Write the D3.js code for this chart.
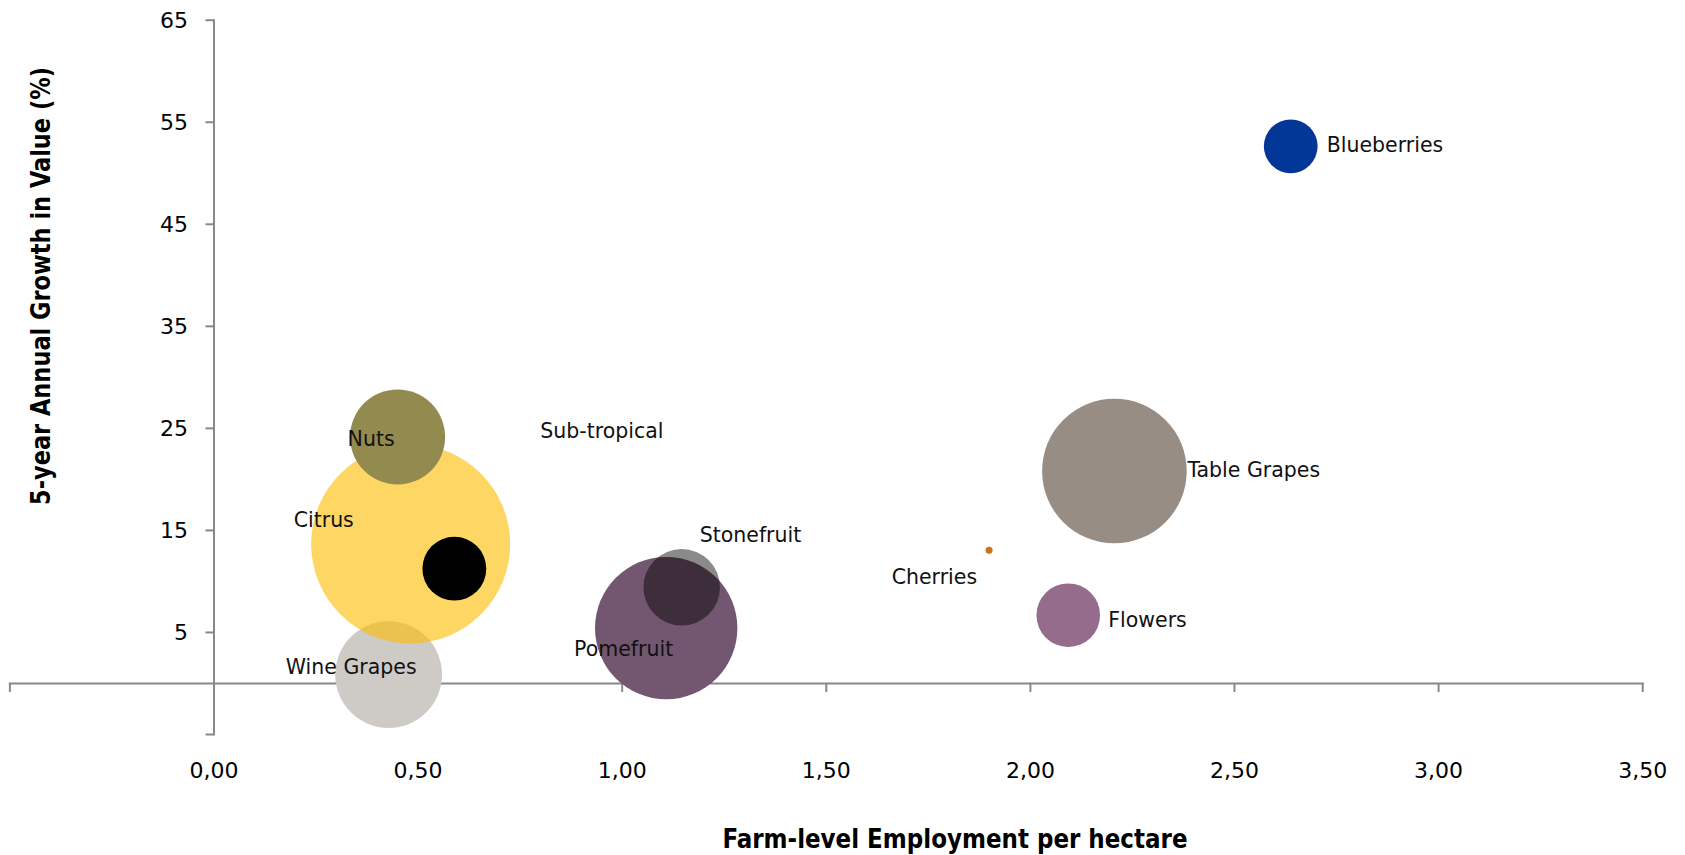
<!DOCTYPE html>
<html>
<head>
<meta charset="utf-8">
<script src="https://cdn.jsdelivr.net/npm/d3@7"></script>
<style>
  html, body { margin: 0; padding: 0; background: #fff; }
  svg { display: block; }
</style>
</head>
<body>
<svg id="chart" width="1685" height="855"></svg>
<script>
// ---- data (in drawing order) ----
const crops = ["Wine Grapes", "Citrus", "Nuts", "Sub-tropical", "Pomefruit", "Stonefruit", "Cherries", "Table Grapes", "Flowers", "Blueberries"];
const employment = [0.429, 0.483, 0.451, 0.590, 1.109, 1.147, 1.900, 2.207, 2.094, 2.639];
const growth = [0.82, 13.62, 24.11, 11.20, 5.38, 9.38, 13.01, 20.77, 6.64, 52.59];
const bubbleSize = [28.8, 100, 22.8, 10.3, 51.2, 14.8, 0.12, 52.8, 10.2, 7.3];
const xTicks = [-0.5, 0, 0.5, 1, 1.5, 2, 2.5, 3, 3.5];
const yTicks = [-5, 5, 15, 25, 35, 45, 55, 65];
const xTitle = "Farm-level Employment per hectare";
const yTitle = "5-year Annual Growth in Value (%)";

// ---- styles ----
const fills = {
  "Wine Grapes": ["#CECAC6", 1],
  "Citrus": ["rgb(253,189,3)", 0.62],
  "Nuts": ["#938A50", 1],
  "Sub-tropical": ["#000000", 1],
  "Pomefruit": ["#735670", 1],
  "Stonefruit": ["#000000", 0.46],
  "Cherries": ["#C8731E", 1],
  "Table Grapes": ["#978D85", 1],
  "Flowers": ["#956C8B", 1],
  "Blueberries": ["#023797", 1]
};
// label placement relative to bubble centre: [anchor, dx, dy]
const labelPlace = {
  "Wine Grapes": ["end", 28, -8],
  "Citrus": ["start", -117, -24],
  "Nuts": ["start", -50, 2],
  "Sub-tropical": ["start", 86, -138],
  "Pomefruit": ["end", 7, 21],
  "Stonefruit": ["start", 18, -52],
  "Cherries": ["end", -12, 27],
  "Table Grapes": ["start", 73, -1],
  "Flowers": ["start", 40, 5],
  "Blueberries": ["start", 36, -2]
};

const svg = d3.select("#chart");
const axisColor = "#888888";
const font = "'DejaVu Sans', sans-serif";

const x = d3.scaleLinear().domain([-0.5, 3.5]).range([9.4, 1642.2]);
const y = d3.scaleLinear().domain([-5, 65]).range([734, 19.7]);
const r = d3.scaleSqrt().domain([0, 100]).range([0, 99.5]);

// ---- axes ----
const xAxis = d3.axisBottom(x).tickValues(xTicks).tickSize(9).tickSizeOuter(0)
  .tickFormat(v => v < 0 ? "" : d3.format(".2f")(v).replace(".", ","));
const gx = svg.append("g").attr("transform", `translate(0,${y(0)})`).call(xAxis);
gx.select(".domain").attr("stroke", axisColor).attr("stroke-width", 2);
gx.selectAll(".tick line").attr("stroke", axisColor).attr("stroke-width", 2);
gx.selectAll(".tick text")
  .attr("y", 770 - y(0)).attr("dy", "0.35em")
  .attr("font-family", font).attr("font-size", 22).attr("fill", "#000");

const yAxis = d3.axisLeft(y).tickValues(yTicks).tickSize(8).tickSizeOuter(0)
  .tickFormat(v => v < 0 ? "" : String(v));
const gy = svg.append("g").attr("transform", `translate(${x(0)},0)`).call(yAxis);
gy.select(".domain").attr("stroke", axisColor).attr("stroke-width", 2);
gy.selectAll(".tick line").attr("stroke", axisColor).attr("stroke-width", 2);
gy.selectAll(".tick text")
  .attr("x", 188 - x(0)).attr("dy", "0.35em")
  .attr("font-family", font).attr("font-size", 22).attr("fill", "#000");
svg.selectAll(".domain").attr("stroke-linecap", "square");

// ---- bubbles ----
const data = crops.map((c, i) => ({ name: c, ex: employment[i], gr: growth[i], s: bubbleSize[i] }));
svg.append("g").selectAll("circle").data(data).join("circle")
  .attr("cx", d => x(d.ex))
  .attr("cy", d => y(d.gr))
  .attr("r", d => Math.max(r(d.s), 3.5))
  .attr("fill", d => fills[d.name][0])
  .attr("fill-opacity", d => fills[d.name][1]);

// ---- labels ----
svg.append("g").selectAll("text").data(data).join("text")
  .attr("x", d => x(d.ex) + labelPlace[d.name][1])
  .attr("y", d => y(d.gr) + labelPlace[d.name][2])
  .attr("dy", "0.35em")
  .attr("text-anchor", d => labelPlace[d.name][0])
  .attr("font-family", font).attr("font-size", 20.5).attr("fill", "#111")
  .text(d => d.name);

// ---- axis titles ----
svg.append("text")
  .attr("x", 955).attr("y", 839).attr("dy", "0.35em")
  .attr("text-anchor", "middle")
  .attr("font-family", "'DejaVu Sans Condensed', 'DejaVu Sans', sans-serif")
  .attr("font-weight", "bold").attr("font-size", 26)
  .attr("textLength", 465).attr("lengthAdjust", "spacingAndGlyphs")
  .text(xTitle);

svg.append("text")
  .attr("transform", "translate(41,286) rotate(-90)")
  .attr("dy", "0.35em")
  .attr("text-anchor", "middle")
  .attr("font-family", "'DejaVu Sans Condensed', 'DejaVu Sans', sans-serif")
  .attr("font-weight", "bold").attr("font-size", 26)
  .attr("textLength", 438).attr("lengthAdjust", "spacingAndGlyphs")
  .text(yTitle);
</script>
</body>
</html>
